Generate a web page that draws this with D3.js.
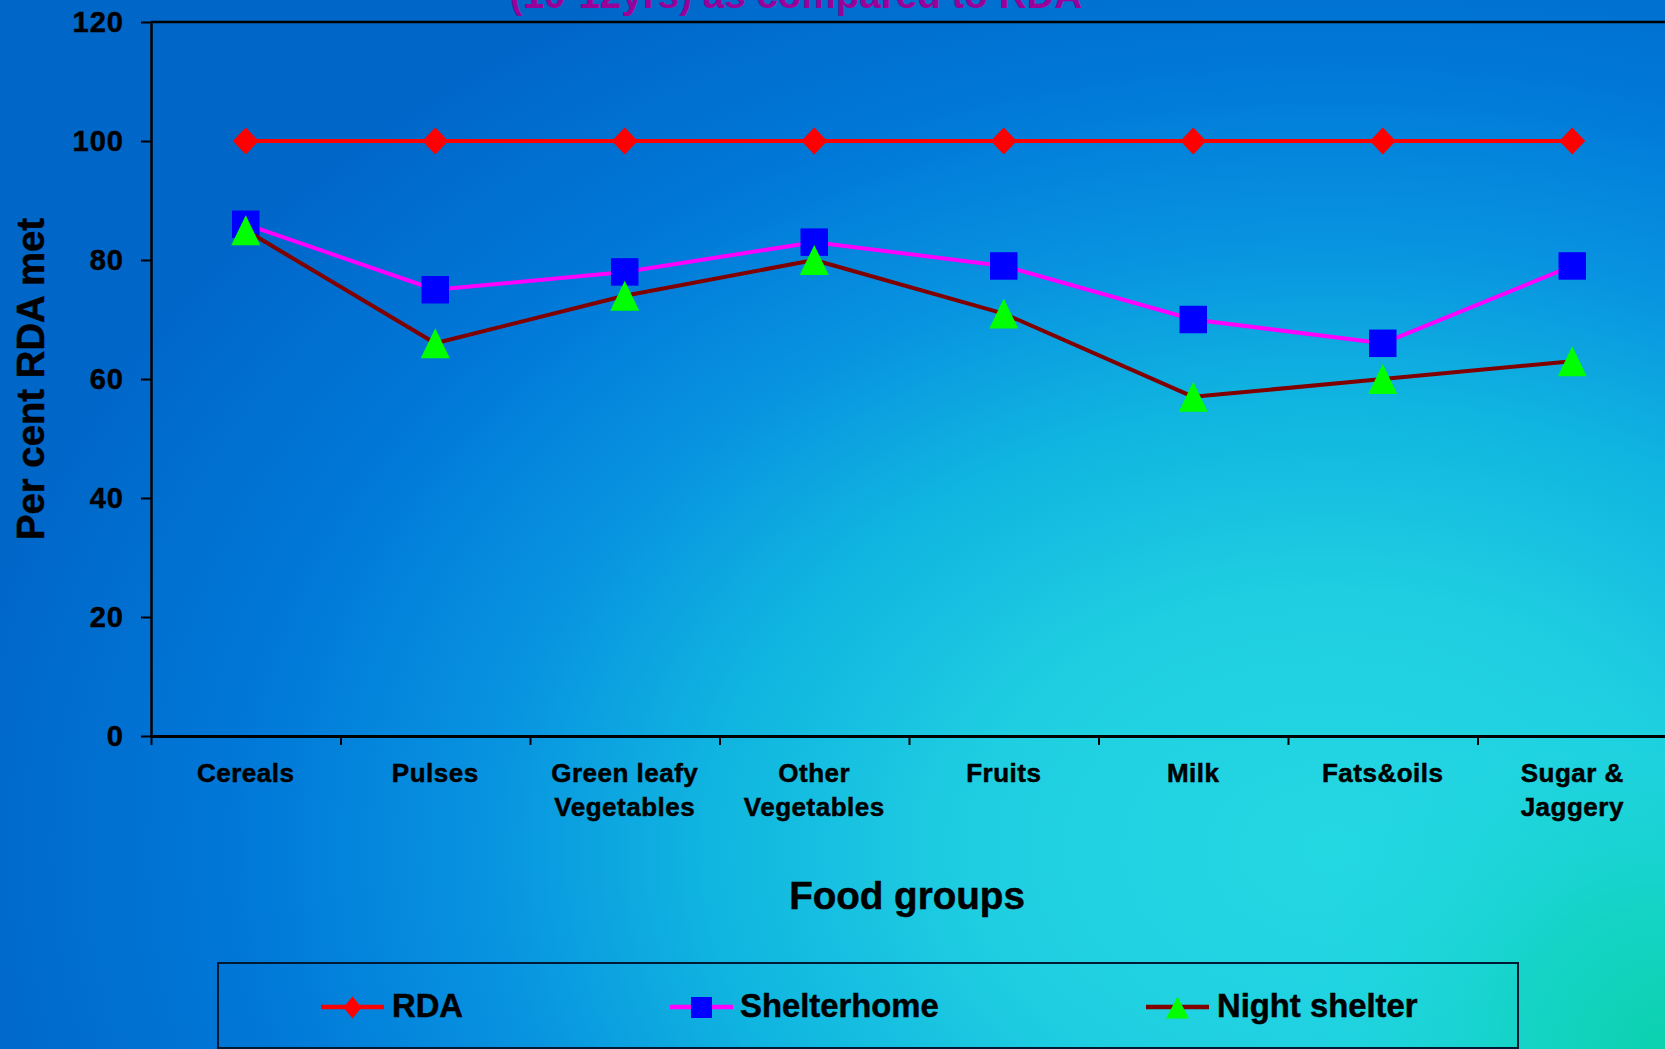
<!DOCTYPE html>
<html>
<head>
<meta charset="utf-8">
<script src="https://cdn.jsdelivr.net/npm/d3@7"></script>
<style>
html, body { margin: 0; padding: 0; overflow: hidden; background: #0066cc; }
svg { display: block; }
text { font-family: "Liberation Sans", Arial, sans-serif; font-weight: bold; }
text.heavy { stroke: #000; stroke-width: 0.5px; }
</style>
</head>
<body>
<svg id="chart" width="1665" height="1049"></svg>
<script>
// ---- data ----
const categories = ["Cereals", "Pulses", "Green leafy Vegetables", "Other Vegetables", "Fruits", "Milk", "Fats&oils", "Sugar & Jaggery"];
const categoryLabels = [["Cereals"], ["Pulses"], ["Green leafy", "Vegetables"], ["Other", "Vegetables"], ["Fruits"], ["Milk"], ["Fats&oils"], ["Sugar &", "Jaggery"]];
const rda = [100, 100, 100, 100, 100, 100, 100, 100];
const shelterhome = [86, 75, 78, 83, 79, 70, 66, 79];
const nightShelter = [85, 66, 74, 80, 71, 57, 60, 63];
const yTicks = [0, 20, 40, 60, 80, 100, 120];
const seriesNames = ["RDA", "Shelterhome", "Night shelter"];
const titleText = "(10-12yrs) as compared to RDA";
const xTitle = "Food groups";
const yTitle = "Per cent RDA met";

(function () {
const W = 1665, H = 1049;
const svg = d3.select("#chart");

// ---- background ----
const defs = svg.append("defs");
const bg = defs.append("radialGradient").attr("id", "bg")
  .attr("gradientUnits", "userSpaceOnUse")
  .attr("cx", 1330).attr("cy", 850).attr("r", 1400)
  .attr("gradientTransform", "translate(1330,850) scale(1,0.72) translate(-1330,-850)");
[[0, "#24d8e2"], [0.25, "#1fcfe1"], [0.45, "#10b4e0"], [0.6, "#0894e0"], [0.78, "#0078d8"], [1, "#0066c8"]]
  .forEach(([o, c]) => bg.append("stop").attr("offset", o).attr("stop-color", c));
const corner = defs.append("radialGradient").attr("id", "corner")
  .attr("gradientUnits", "userSpaceOnUse")
  .attr("cx", W).attr("cy", H).attr("r", 380);
corner.append("stop").attr("offset", 0).attr("stop-color", "#0cd2ae").attr("stop-opacity", 1);
corner.append("stop").attr("offset", 0.35).attr("stop-color", "#10d4bc").attr("stop-opacity", 0.8);
corner.append("stop").attr("offset", 1).attr("stop-color", "#20d8e0").attr("stop-opacity", 0);
svg.append("rect").attr("width", W).attr("height", H).attr("fill", "url(#bg)");
svg.append("rect").attr("width", W).attr("height", H).attr("fill", "url(#corner)");

// ---- scales ----
const pLeft = 151, pRight = 1667, pTop = 22, pBottom = 736;
const x = d3.scaleBand().domain(categories).range([pLeft, pRight]).padding(0);
const xb = d3.scaleLinear().domain([0, categories.length]).range([pLeft, pRight]);
const y = d3.scaleLinear().domain([0, 120]).range([pBottom, pTop]);
const cx = c => x(c) + x.bandwidth() / 2;

// ---- title (partially cut off at top, as in the reference) ----
svg.append("text").attr("x", 796).attr("y", 7.5).attr("text-anchor", "middle")
  .attr("font-size", 38.6).attr("fill", "#990099").text(titleText);

// ---- top frame line ----
svg.append("line").attr("x1", pLeft).attr("x2", W).attr("y1", y(120)).attr("y2", y(120))
  .attr("stroke", "#000").attr("stroke-width", 2.5);

// ---- y axis ----
const yAxis = svg.append("g").attr("transform", `translate(${pLeft},0)`)
  .call(d3.axisLeft(y).tickValues(yTicks).tickSize(10).tickSizeOuter(0).tickPadding(17));
yAxis.select(".domain").attr("stroke", "#000").attr("stroke-width", 2.5);
yAxis.selectAll(".tick line").attr("stroke", "#000").attr("stroke-width", 2);
yAxis.selectAll(".tick text").attr("class", "heavy").attr("font-family", "'Liberation Sans', Arial, sans-serif")
  .attr("font-weight", "bold").attr("font-size", 29).attr("letter-spacing", "1px").attr("fill", "#000");

// ---- x axis ----
const xAxis = svg.append("g").attr("transform", `translate(0,${pBottom})`)
  .call(d3.axisBottom(xb).tickValues(d3.range(0, categories.length + 1)).tickFormat("").tickSize(9).tickSizeOuter(0));
xAxis.select(".domain").attr("stroke", "#000").attr("stroke-width", 3);
xAxis.selectAll(".tick line").attr("stroke", "#000").attr("stroke-width", 2);

const catG = svg.append("g");
categories.forEach((c, i) => {
  const t = catG.append("text").attr("class", "heavy").attr("x", cx(c)).attr("y", 782).attr("text-anchor", "middle")
    .attr("font-size", 26).attr("letter-spacing", "0.5px").attr("fill", "#000");
  categoryLabels[i].forEach((line, j) => {
    t.append("tspan").attr("x", cx(c)).attr("y", 782 + j * 34).text(line);
  });
});

// ---- axis titles ----
svg.append("text").attr("class", "heavy").attr("x", 907).attr("y", 909).attr("text-anchor", "middle")
  .attr("font-size", 38.6).attr("fill", "#000").text(xTitle);
svg.append("text").attr("class", "heavy").attr("transform", "translate(44,379) rotate(-90)").attr("text-anchor", "middle")
  .attr("font-size", 38.3).attr("fill", "#000").text(yTitle);

// ---- marker shapes ----
function diamondPath(w, h) { return `M0,${-h/2}L${w/2},0L0,${h/2}L${-w/2},0Z`; }
function squarePath(s) { return `M${-s/2},${-s/2}h${s}v${s}h${-s}Z`; }
function trianglePath(w, h) { return `M0,${-h/2}L${w/2},${h/2}L${-w/2},${h/2}Z`; }

const series = [
  { name: seriesNames[0], values: rda, line: "#ff0000", fill: "#ff0000", path: diamondPath(26, 27), lpath: diamondPath(18, 22) },
  { name: seriesNames[1], values: shelterhome, line: "#ff00ff", fill: "#0000ff", path: squarePath(27.5), lpath: squarePath(21) },
  { name: seriesNames[2], values: nightShelter, line: "#800000", fill: "#00ff00", path: trianglePath(29, 30), lpath: trianglePath(23, 22) }
];

const lineGen = d3.line().x((d, i) => cx(categories[i])).y(d => y(d));
series.forEach(s => {
  const g = svg.append("g");
  g.append("path").datum(s.values).attr("d", lineGen).attr("fill", "none")
    .attr("stroke", s.line).attr("stroke-width", 4).attr("stroke-linejoin", "round");
  g.selectAll("path.m").data(s.values).join("path").attr("class", "m")
    .attr("transform", (d, i) => `translate(${cx(categories[i])},${y(d)})`)
    .attr("d", s.path).attr("fill", s.fill);
});

// ---- legend ----
svg.append("rect").attr("x", 218).attr("y", 963).attr("width", 1300).attr("height", 85)
  .attr("fill", "none").attr("stroke", "#001a33").attr("stroke-width", 2);
const legendPos = [{ x1: 321, x2: 384, tx: 392 }, { x1: 670, x2: 733, tx: 740 }, { x1: 1146, x2: 1209, tx: 1217 }];
series.forEach((s, i) => {
  const p = legendPos[i];
  svg.append("line").attr("x1", p.x1).attr("x2", p.x2).attr("y1", 1007).attr("y2", 1007)
    .attr("stroke", s.line).attr("stroke-width", 4.5);
  svg.append("path").attr("transform", `translate(${(p.x1 + p.x2) / 2},1007.5)`).attr("d", s.lpath).attr("fill", s.fill);
  svg.append("text").attr("class", "heavy").attr("x", p.tx).attr("y", 1017).attr("font-size", 32.8).attr("fill", "#000").text(s.name);
});
})();
</script>
</body>
</html>
